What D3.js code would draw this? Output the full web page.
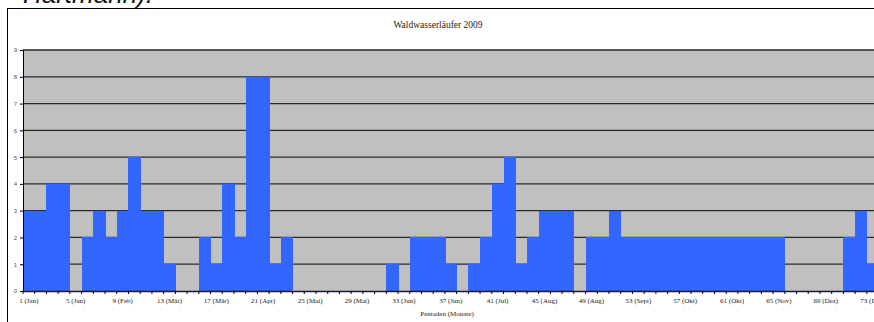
<!DOCTYPE html>
<html>
<head>
<meta charset="utf-8">
<script src="https://cdn.jsdelivr.net/npm/d3@7"></script>
<style>
  body { margin: 0; background: #fff; overflow: hidden; }
  svg { display: block; }
</style>
</head>
<body>
<svg width="874" height="322"></svg>
<script>
// Pentaden 1..73, Anzahl Beobachtungen
var pentads = d3.range(1, 74);
var counts = [3,3,4,4,0,2,3,2,3,5,3,3,1,0,0,2,1,4,2,8,8,1,2,
              0,0,0,0,0,0,0,0,1,0,2,2,2,1,0,1,2,4,5,1,2,3,3,3,0,
              2,2,3,2,2,2,2,2,2,2,2,2,2,2,2,2,2,0,0,0,0,0,2,3,1];
var tickLabels = {1:"1 (Jan)",5:"5 (Jan)",9:"9 (Feb)",13:"13 (Mär)",17:"17 (Mär)",
  21:"21 (Apr)",25:"25 (Mai)",29:"29 (Mai)",33:"33 (Jun)",37:"37 (Jun)",41:"41 (Jul)",
  45:"45 (Aug)",49:"49 (Aug)",53:"53 (Sept)",57:"57 (Okt)",61:"61 (Okt)",65:"65 (Nov)",
  69:"69 (Dez)",73:"73 (Dez)"};
var yTicks = d3.range(0, 10);

var svg = d3.select("svg");

// text of the page above, cut off by the frame
svg.append("text")
    .attr("x", 153).attr("y", 3)
    .attr("text-anchor", "end")
    .style("font-family", "Liberation Sans, Arial, sans-serif")
    .style("font-style", "italic")
    .style("font-size", "26px")
    .style("fill", "#111")
    .text("Hartmann).");

// chart frame
svg.append("rect")
    .attr("x", 7.5).attr("y", 8.5)
    .attr("width", 900).attr("height", 340)
    .attr("fill", "#fff").attr("stroke", "#000").attr("stroke-width", 1);

var left = 23, bw = 11.72;
var x = d3.scaleBand().domain(pentads).range([left, left + 73 * bw]).padding(0);
var y = d3.scaleLinear().domain([0, 9]).range([291, 50]);

var g = svg.append("g");

g.append("rect")
    .attr("x", x.range()[0]).attr("y", y(9))
    .attr("width", x.range()[1] - x.range()[0]).attr("height", y(0) - y(9))
    .attr("fill", "#c0c0c0");

// gridlines
g.selectAll("line.grid")
    .data(yTicks.slice(1))
    .enter().append("line")
    .attr("class", "grid")
    .attr("x1", x.range()[0]).attr("x2", x.range()[1])
    .attr("y1", function(d) { return y(d); })
    .attr("y2", function(d) { return y(d); })
    .style("stroke", "#2a2a2a")
    .style("stroke-width", 1.3);

// bars
g.selectAll("rect.bar")
    .data(counts)
    .enter().append("rect")
    .attr("class", "bar")
    .attr("x", function(d, i) { return x(pentads[i]); })
    .attr("width", x.bandwidth() + 0.6)
    .attr("y", function(d) { return y(d); })
    .attr("height", function(d) { return y(0) - y(d); })
    .attr("fill", "#3366ff")
    .attr("shape-rendering", "crispEdges");

// y axis
var yAxis = d3.axisLeft(y).tickValues(yTicks).tickSize(3).tickPadding(3);
var ya = g.append("g").attr("transform", "translate(" + left + ",0)").call(yAxis);
ya.select(".domain").style("stroke", "#000");
ya.selectAll("text")
    .style("font-family", "Liberation Sans, Arial, sans-serif")
    .style("font-size", "6px")
    .style("fill", "#555");

// x axis with ticks between the pentads
var xAxis = d3.axisBottom(x)
    .tickValues(d3.range(1, 74, 4))
    .tickFormat(function(d) { return tickLabels[d]; })
    .tickSize(0).tickPadding(7);
var xa = g.append("g").attr("transform", "translate(0," + y(0) + ")").call(xAxis);
xa.select(".domain").style("stroke", "#1a1a40").style("stroke-width", 1.5);
xa.selectAll("text")
    .style("font-family", "Liberation Serif, Times New Roman, serif")
    .style("font-size", "7px")
    .style("fill", "#222");

g.selectAll("line.xtick")
    .data(pentads)
    .enter().append("line")
    .attr("class", "xtick")
    .attr("x1", function(d) { return x(d); })
    .attr("x2", function(d) { return x(d); })
    .attr("y1", y(0)).attr("y2", y(0) + 3)
    .style("stroke", "#000");

// title and axis title
svg.append("text")
    .attr("x", 438).attr("y", 28)
    .attr("text-anchor", "middle")
    .style("font-family", "Liberation Serif, Times New Roman, serif")
    .style("font-size", "9.5px")
    .style("fill", "#222")
    .text("Waldwasserläufer 2009");

svg.append("text")
    .attr("x", 447).attr("y", 316)
    .attr("text-anchor", "middle")
    .style("font-family", "Liberation Serif, Times New Roman, serif")
    .style("font-size", "7px")
    .style("fill", "#222")
    .text("Pentaden (Monate)");
</script>
</body>
</html>
